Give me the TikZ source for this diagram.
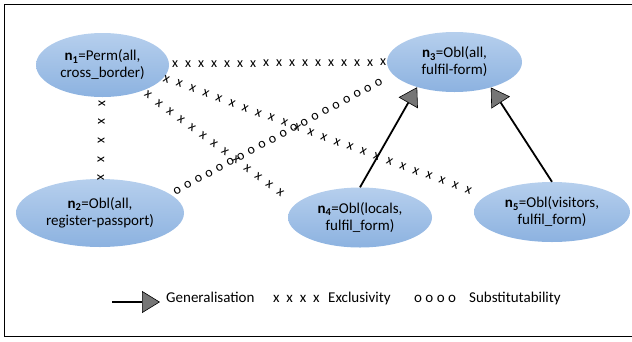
\documentclass[tikz,border=0pt]{standalone}
\usepackage{fontspec}
\setmainfont{Carlito}
\usepackage{xcolor}
\usetikzlibrary{arrows.meta, shapes.geometric, decorations.markings}

\definecolor{relTop}{RGB}{182,207,237}
\definecolor{relBottom}{RGB}{140,178,224}
\definecolor{tipGray}{RGB}{118,118,118}

\begin{document}
\begin{tikzpicture}[
		x=1pt, y=-1pt,
		font=\fontsize{15}{17}\selectfont,
		frame/.style={line width=0.8pt},
		relation/.style={ellipse, inner sep=0pt, top color=relTop, bottom color=relBottom, draw=none},
		rel text/.style={align=center, inner sep=0pt},
		gen/.style={line width=1.8pt, -{Triangle[length=18pt, width=22pt, line width=0.6pt, fill=tipGray]}},
		x mark/.style={inner sep=0pt, transform shape, font=\fontsize{14}{14}\selectfont},
		excl/.style={postaction={decorate}, decoration={markings, mark=between positions #1 with {\node[x mark] {x};}}},
		subst/.style={postaction={decorate}, decoration={markings, mark=between positions #1 with {\node[x mark] {o};}}},
		legend/.style={anchor=base west, inner sep=0pt}
		]
	
	\useasboundingbox (0,0) rectangle (632,341);
	
	% Frame
	\draw[frame] (632,4.5) -- (4.5,4.5) -- (4.5,336) -- (632,336);
	
	% Relations
	\node[relation, minimum width=133pt, minimum height=64pt] (n1) at (102.5,65) {};
	\node[rel text] (t1) at (n1) {\textbf{n\textsubscript{1}}=Perm(all,\\cross\_border)};
	
	\node[relation, minimum width=168pt, minimum height=68pt] (n2) at (100,213) {};
	\node[rel text] (t2) at (n2) {\textbf{n\textsubscript{2}}=Obl(all,\\register-passport)};
	
	\node[relation, minimum width=135pt, minimum height=60pt] (n3) at (454.5,62) {};
	\node[rel text] (t3) at (n3) {\textbf{n\textsubscript{3}}=Obl(all,\\fulfil-form)};
	
	\node[relation, minimum width=144pt, minimum height=60pt] (n4) at (360,217.5) {};
	\node[rel text] (t4) at (n4) {\textbf{n\textsubscript{4}}=Obl(locals,\\fulfil\_form)};
	
	\node[relation, minimum width=156pt, minimum height=60pt] (n5) at (552,212) {};
	\node[rel text] (t5) at (n5) {\textbf{n\textsubscript{5}}=Obl(visitors,\\fulfil\_form)};
	
	% Exclusivity
	\path[excl={6pt and -3pt step 13pt}] (n1) -- (n3);
	\path[excl={6pt and 1 step 18.7pt}] (n1) -- (n2);
	\path[excl={3pt and -6pt step 14pt}] (n1.-12) -- (n5.167);
	\path[excl={7pt and -6pt step 13.7pt}] (n1.-33) -- (n4.168);
	
	% Substitutability
	\path[subst={8pt and -5pt step 12pt}] (n2.15) -- (n3.-168);
	
	% Generalisation
	\draw[gen] (n4.north) -- (n3.-146);
	\draw[gen] (n5.north) -- (n3.-35);
	
	% Legend
	\coordinate (leg a) at (112,302);
	\coordinate (leg b) at (160,302);
	\draw[gen] (leg a) -- (leg b);
	\node[legend] (lg1) at (166,302.5) {Generalisation};
	\node[legend] (lg2) at (273,302.5) {x~~x~~x~~x};
	\node[legend] (lg3) at (328,302.5) {Exclusivity};
	\node[legend] (lg4) at (414,302.5) {o o o o};
	\node[legend] (lg5) at (469,302.5) {Substitutability};

\end{tikzpicture}
\end{document}
